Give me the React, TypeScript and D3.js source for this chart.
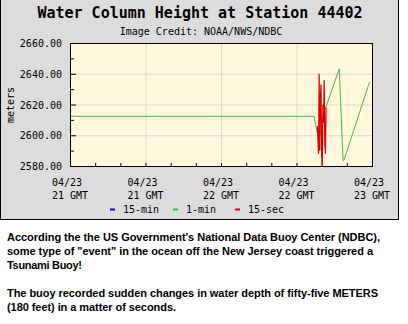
import React from "react";
import * as d3 from "d3";

const W = 408, H = 324;
const TITLE = "Water Column Height at Station 44402";
const CREDIT = "Image Credit: NOAA/NWS/NDBC";
const Y_LABEL = "meters";
const Y_TICKS = [2580, 2600, 2620, 2640, 2660];
const X_TICK_TIMES = ["21:00", "21:30", "22:00", "22:30", "23:00"];
const X_TICK_LINE1 = ["04/23", "04/23", "04/23", "04/23", "04/23"];
const X_TICK_LINE2 = ["21 GMT", "21 GMT", "22 GMT", "22 GMT", "23 GMT"];
const LEGEND_LABELS = ["15-min", "1-min", "15-sec"];
const LEGEND_COLORS = ["#0000cc", "#44bb44", "#dd0000"];

// 1-min series (time, meters)
const ONE_MIN_TIMES = ["21:00:00", "22:37:00", "22:38:00", "22:39:00", "22:41:00", "22:47:00", "22:48:30", "22:49:00", "22:59:00"];
const ONE_MIN_VALUES = [2612.3, 2612.3, 2603.4, 2597.5, 2615.3, 2643.2, 2583.3, 2584.5, 2634.6];

// 15-sec series
const FIFTEEN_SEC_TIMES = ["22:38:15", "22:38:30", "22:38:45", "22:39:00", "22:39:15", "22:39:30", "22:39:45", "22:40:00", "22:40:15", "22:40:30", "22:40:45", "22:41:00", "22:41:15", "22:41:30", "22:41:45"];
const FIFTEEN_SEC_VALUES = [2606, 2598, 2588, 2640, 2590, 2625, 2633, 2586, 2580, 2620, 2608, 2636, 2596, 2588, 2618];

const TEXT_LINES = [
  "According the the US Government's National Data Buoy Center (NDBC),",
  "some type of \"event\" in the ocean off the New Jersey coast triggered a",
  "Tsunami Buoy!",
  "",
  "The buoy recorded sudden changes in water depth of fifty-five METERS",
  "(180 feet) in a matter of seconds.",
];
const TEXT_WIDTHS = [373, 366, 75, 0, 371, 169];

const toDate = (s: string) => {
  const [h, m, sec] = s.split(":").map(Number);
  return new Date(2014, 3, 23, h, m, sec || 0);
};

export default function App() {
  const left = 70, right = 372, top = 43, bottom = 166;
  const x = d3.scaleTime().domain([toDate("21:00"), toDate("23:00")]).range([left, right]);
  const y = d3.scaleLinear().domain([2580, 2660]).range([bottom, top]);
  const mono = "'DejaVu Sans Mono', monospace";

  const green = ONE_MIN_TIMES.map((t, i) => [x(toDate(t)), y(ONE_MIN_VALUES[i])] as [number, number]);
  const red = FIFTEEN_SEC_TIMES.map((t, i) => [x(toDate(t)), y(FIFTEEN_SEC_VALUES[i])] as [number, number]);
  const line = d3.line();

  const minorY = d3.range(2590, 2660, 20);
  const minorX = d3.timeMinute.every(10)!.range(toDate("21:00"), toDate("23:00"));

  return (
    <svg width={W} height={H} style={{ position: "absolute", left: 0, top: 0, background: "#fff" }}>
      <rect x={0.5} y={-1} width={398} height={220.5} fill="#dcdcdc" stroke="#000" strokeWidth={1} />
      <text x={200} y={18} textAnchor="middle" fontFamily={mono} fontWeight="bold" fontSize={15}>{TITLE}</text>
      <text x={201} y={35} textAnchor="middle" fontFamily={mono} fontSize={10}>{CREDIT}</text>
      <rect x={left} y={top} width={right - left} height={bottom - top} fill="#fff8dc" />
      {Y_TICKS.slice(1, -1).map((v) => (
        <line key={"gy" + v} x1={left} x2={right} y1={y(v) + 0.5} y2={y(v) + 0.5} stroke="#d8d8d8" />
      ))}
      {X_TICK_TIMES.slice(1, -1).map((t) => (
        <line key={"gx" + t} x1={x(toDate(t)) + 0.5} x2={x(toDate(t)) + 0.5} y1={top} y2={bottom} stroke="#d8d8d8" />
      ))}
      {Y_TICKS.map((v) => (
        <g key={"yt" + v}>
          <line x1={left} x2={left + 6} y1={y(v) + 0.5} y2={y(v) + 0.5} stroke="#000" />
          <text x={62} y={y(v) + 4} textAnchor="end" fontFamily={mono} fontSize={10}>{v.toFixed(2)}</text>
        </g>
      ))}
      {minorY.map((v) => (
        <line key={"ym" + v} x1={left} x2={left + 4} y1={y(v) + 0.5} y2={y(v) + 0.5} stroke="#000" />
      ))}
      {minorX.map((d, i) => (
        <line key={"xm" + i} x1={x(d) + 0.5} x2={x(d) + 0.5} y1={bottom} y2={bottom - 3} stroke="#000" />
      ))}
      <path d={line(green) || ""} fill="none" stroke="#44bb44" strokeWidth={1} />
      <path d={line(red) || ""} fill="none" stroke="#dd0000" strokeWidth={1.2} />
      <rect x={left + 0.5} y={top + 0.5} width={right - left} height={bottom - top} fill="none" stroke="#000" />
      <text transform={`translate(14,105) rotate(-90)`} textAnchor="middle" fontFamily={mono} fontSize={10}>{Y_LABEL}</text>
      {X_TICK_TIMES.map((t, i) => (
        <g key={"xl" + t}>
          <text x={x(toDate(t)) - 18} y={186} fontFamily={mono} fontSize={10}>{X_TICK_LINE1[i]}</text>
          <text x={x(toDate(t)) - 18} y={199} fontFamily={mono} fontSize={10}>{X_TICK_LINE2[i]}</text>
        </g>
      ))}
      {LEGEND_LABELS.map((l, i) => {
        const lx = [110, 173, 235][i];
        return (
          <g key={l}>
            <line x1={lx} x2={lx + 5} y1={209.5} y2={209.5} stroke={LEGEND_COLORS[i]} strokeWidth={2} />
            <text x={lx + 13} y={213} fontFamily={mono} fontSize={10}>{l}</text>
          </g>
        );
      })}
      {TEXT_LINES.map((t, i) =>
        t ? (
          <text key={"t" + i} x={7} y={241 + i * 14} fontFamily="'Liberation Sans', Arial, sans-serif" fontWeight="bold" fontSize={11}
            textLength={TEXT_WIDTHS[i]} lengthAdjust="spacing">{t}</text>
        ) : null
      )}
    </svg>
  );
}
